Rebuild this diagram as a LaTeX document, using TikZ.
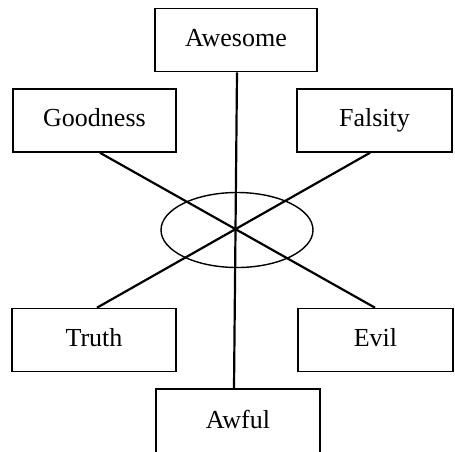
\documentclass[tikz,border=0pt]{standalone}
\usepackage{fontspec}
\setmainfont{Liberation Serif}
\usetikzlibrary{shapes.geometric}
\begin{document}
\begin{tikzpicture}[x=1pt,y=-1pt,
  box/.style={draw,line width=1.6pt,inner sep=0pt,minimum height=63pt,text height=17pt,text depth=5pt,font=\fontsize{26}{30}\selectfont},
  conn/.style={line width=2.2pt}]
\useasboundingbox (0,0) rectangle (455,451);
\begin{scope}
\clip (0,0) rectangle (455,451);
\node[box,minimum width=162pt] (awe) at (236,40) {Awesome};
\node[box,minimum width=163pt] (good) at (94.5,120.5) {Goodness};
\node[box,minimum width=155pt] (fals) at (374.5,120.5) {Falsity};
\node[box,minimum width=164pt] (truth) at (94,340) {Truth};
\node[box,minimum width=155pt] (evil) at (375.5,340) {Evil};
\node[box,minimum width=164pt,minimum height=66pt] (awful) at (238,422) {Awful};
\node[draw,ellipse,line width=1.4pt,minimum width=152pt,minimum height=75pt,inner sep=0pt] (ell) at (237,230) {};
\draw[conn] ([xshift=1pt]awe.south) -- ([xshift=-4pt]awful.north);
\draw[conn] ([xshift=5.5pt]good.south) -- ([xshift=-0.5pt]evil.north);
\draw[conn] ([xshift=-4.5pt]fals.south) -- ([xshift=3pt]truth.north);
\end{scope}
\end{tikzpicture}
\end{document}
